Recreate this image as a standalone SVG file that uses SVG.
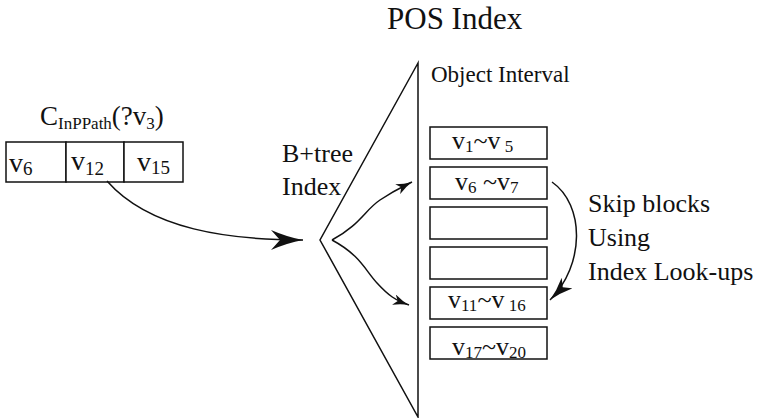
<svg xmlns="http://www.w3.org/2000/svg" width="764" height="418" viewBox="0 0 764 418">
  <style>
    text { font-family: "Liberation Serif", "Times New Roman", serif; fill: #111; }
    .ln { fill: none; stroke: #111; stroke-width: 1.5; }
    .box { fill: #fff; stroke: #111; stroke-width: 1.5; }
    .big { font-size: 26px; }
    .cell { font-size: 28px; }
    .blk { font-size: 26px; }
    .sub { font-size: 17px; }
  </style>
  <defs>
    <!-- barbed arrowheads with slightly concave flanks -->
    <marker id="headBig" viewBox="0 0 32 20" refX="32" refY="10" markerWidth="32" markerHeight="20" markerUnits="userSpaceOnUse" orient="auto">
      <path d="M0,0 Q16,7 32,10 Q16,13 0,20 L9,10 Z" fill="#111"/>
    </marker>
    <marker id="headSmall" viewBox="0 0 16 11" refX="16" refY="5.5" markerWidth="16" markerHeight="11" markerUnits="userSpaceOnUse" orient="auto">
      <path d="M0,0 Q8,4 16,5.5 Q8,7 0,11 L4,5.5 Z" fill="#111"/>
    </marker>
    <marker id="headMid" viewBox="0 0 24 15" refX="24" refY="7.5" markerWidth="24" markerHeight="15" markerUnits="userSpaceOnUse" orient="auto">
      <path d="M0,0 Q12,5.5 24,7.5 Q12,9.5 0,15 L6,7.5 Z" fill="#111"/>
    </marker>
  </defs>

  <!-- title -->
  <text x="387" y="29" font-size="31">POS Index</text>

  <!-- query pattern with its candidate cells -->
  <g id="query">
    <text x="40" y="125" font-size="27">C<tspan class="sub" dy="4">InPPath</tspan><tspan dy="-4">(?v</tspan><tspan class="sub" dy="4">3</tspan><tspan dy="-4">)</tspan></text>
    <rect class="box" x="6" y="142" width="60" height="40"/>
    <rect class="box" x="66" y="142" width="58" height="40"/>
    <rect class="box" x="124" y="142" width="59" height="40"/>
    <text class="cell" x="9" y="172">v<tspan font-size="19" dy="3">6</tspan></text>
    <text class="cell" x="71" y="170">v<tspan font-size="19" dy="5">12</tspan></text>
    <text class="cell" x="137" y="171">v<tspan font-size="19" dy="3">15</tspan></text>
  </g>

  <!-- B+tree index over the interval blocks -->
  <g id="btree">
    <polygon class="ln" points="418,63 320,240 418,417"/>
    <text class="big" x="282" y="162">B+tree</text>
    <text class="big" x="282" y="195">Index</text>
  </g>

  <g id="intervals">
    <text x="431" y="82" style="font-size:23px">Object Interval</text>
    <rect class="box" x="430" y="127" width="117" height="32"/>
    <rect class="box" x="430" y="167" width="117" height="32"/>
    <rect class="box" x="430" y="207" width="117" height="32"/>
    <rect class="box" x="430" y="247" width="117" height="32"/>
    <rect class="box" x="430" y="287" width="117" height="32"/>
    <rect class="box" x="430" y="327" width="117" height="32"/>
    <text class="blk" x="452" y="149">v<tspan class="sub" dy="3">1</tspan><tspan dy="-3">~v</tspan><tspan class="sub" dy="3"> 5</tspan></text>
    <text class="blk" x="455" y="190">v<tspan class="sub" dy="3">6</tspan><tspan dy="-3"> ~v</tspan><tspan class="sub" dy="3">7</tspan></text>
    <text class="blk" x="448" y="308">v<tspan class="sub" dy="3">11</tspan><tspan dy="-3">~v</tspan><tspan class="sub" dy="3"> 16</tspan></text>
    <text class="blk" x="452" y="355">v<tspan class="sub" dy="3">17</tspan><tspan dy="-3">~v</tspan><tspan class="sub" dy="3">20</tspan></text>
  </g>

  <g id="skipNote">
    <text class="big" x="588" y="212">Skip blocks</text>
    <text class="big" x="588" y="246">Using</text>
    <text class="big" x="588" y="280">Index Look-ups</text>
  </g>

  <g id="connectors">
    <path class="ln" d="M107,181 C150,230 230,240 303,240" marker-end="url(#headBig)"/>
    <path class="ln" stroke-width="1.2" d="M332,240 C360,225 365,210 380,200 S400,188 412,182" marker-end="url(#headSmall)"/>
    <path class="ln" stroke-width="1.2" d="M332,240 C360,255 365,270 377,283 S395,300 409,305" marker-end="url(#headSmall)"/>
    <path class="ln" d="M552,182 C585,205 585,265 550,300" marker-end="url(#headMid)"/>
  </g>
</svg>
